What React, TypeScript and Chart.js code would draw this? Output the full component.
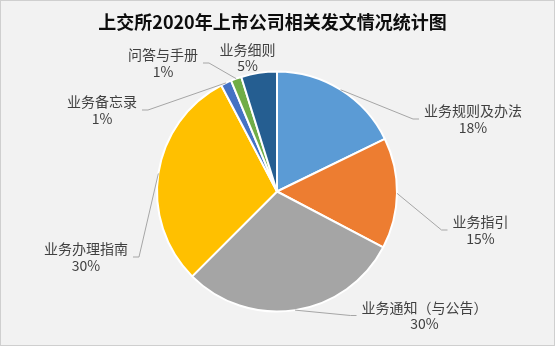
import React, { useEffect, useRef } from "react";
import { Chart, registerables } from "chart.js";

Chart.register(...registerables);

const TITLE = "上交所2020年上市公司相关发文情况统计图";
const categories = [
  "业务规则及办法",
  "业务指引",
  "业务通知（与公告）",
  "业务办理指南",
  "业务备忘录",
  "问答与手册",
  "业务细则",
];
const counts = [37, 31, 62, 62, 3, 3, 10];
const colors = ["#5B9BD5", "#ED7D31", "#A5A5A5", "#FFC000", "#4472C4", "#70AD47", "#255E91"];
// label placement offsets (px) from the pie centre – styling only
const labelOffsets: [number, number][] = [
  [196, -72.5],
  [203.5, 38.5],
  [147.5, 124],
  [-191, 65.5],
  [-175, -81.5],
  [-114, -128.5],
  [-29.5, -134],
];

const LABEL_FONT = "14px 'Noto Sans CJK SC', 'Noto Sans', sans-serif";

const pieLabelPlugin = {
  id: "pieLabels",
  beforeDraw(chart: any) {
    const { ctx, width, height } = chart;
    ctx.save();
    ctx.fillStyle = "#F2F2F2";
    ctx.fillRect(0, 0, width, height);
    ctx.strokeStyle = "#CFCFCF";
    ctx.lineWidth = 1;
    ctx.strokeRect(0.5, 0.5, width - 1, height - 1);
    ctx.fillStyle = "#0D0D0D";
    ctx.font = "bold 18px 'Noto Sans CJK SC', sans-serif";
    ctx.textAlign = "center";
    ctx.textBaseline = "middle";
    ctx.fillText(TITLE, 272.5, 22);
    ctx.restore();
  },
  afterDatasetsDraw(chart: any) {
    const { ctx } = chart;
    const meta = chart.getDatasetMeta(0);
    const total = counts.reduce((a, b) => a + b, 0);
    ctx.save();
    ctx.font = LABEL_FONT;
    meta.data.forEach((arc: any, i: number) => {
      const { x, y, startAngle, endAngle, outerRadius } = arc.getProps(
        ["x", "y", "startAngle", "endAngle", "outerRadius"],
        true
      );
      const mid = (startAngle + endAngle) / 2;
      const ax = x + Math.cos(mid) * outerRadius;
      const ay = y + Math.sin(mid) * outerRadius;
      const lx = x + labelOffsets[i][0];
      const ly = y + labelOffsets[i][1];
      const lines = [categories[i], Math.round((counts[i] / total) * 100) + "%"];
      const w = Math.max(...lines.map((t) => ctx.measureText(t).width));
      const lh = 16.5;
      const left = lx - w / 2;
      const right = lx + w / 2;
      const top = ly - lh;
      const bottom = ly + lh;
      const inside = ax >= left - 4 && ax <= right + 4 && ay >= top - 4 && ay <= bottom + 4;
      if (!inside) {
        const side = ax < left ? -1 : ax > right ? 1 : ax < lx ? -1 : 1;
        const ex = side < 0 ? left - 5 : right + 5;
        const kx = side < 0 ? ex - 6 : ex + 6;
        ctx.strokeStyle = "#A6A6A6";
        ctx.lineWidth = 1;
        ctx.beginPath();
        ctx.moveTo(ax, ay);
        ctx.lineTo(kx, ly);
        ctx.lineTo(ex, ly);
        ctx.stroke();
      }
      ctx.fillStyle = "#404040";
      ctx.textAlign = "center";
      ctx.textBaseline = "middle";
      ctx.fillText(lines[0], lx, ly - lh / 2);
      ctx.fillText(lines[1], lx, ly + lh / 2);
    });
    ctx.restore();
  },
};

export default function App() {
  const ref = useRef<HTMLCanvasElement | null>(null);
  useEffect(() => {
    if (!ref.current) return;
    const chart = new Chart(ref.current, {
      type: "pie",
      data: {
        labels: categories,
        datasets: [
          {
            data: counts,
            backgroundColor: colors,
            borderColor: "#FFFFFF",
            borderWidth: 2,
          },
        ],
      },
      options: {
        responsive: false,
        animation: false,
        events: [],
        radius: 120,
        layout: { padding: { top: 37, left: 0, right: 1, bottom: 0 } },
        plugins: {
          legend: { display: false },
          tooltip: { enabled: false },
          title: { display: false },
        },
      } as any,
      plugins: [pieLabelPlugin],
    });
    return () => chart.destroy();
  }, []);
  return (
    <div style={{ position: "fixed", left: 0, top: 0, width: 555, height: 346 }}>
      <canvas ref={ref} width={555} height={346} style={{ width: 555, height: 346, display: "block" }} />
    </div>
  );
}
